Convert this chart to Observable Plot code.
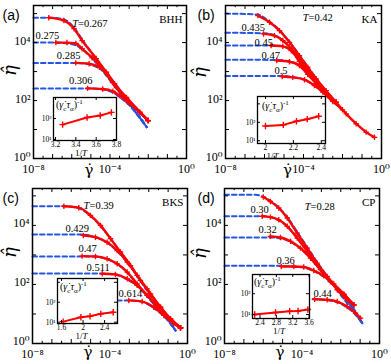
<!DOCTYPE html>
<html><head><meta charset="utf-8">
<script src="https://cdn.jsdelivr.net/npm/d3@7"></script>
<script src="https://cdn.jsdelivr.net/npm/@observablehq/plot@0.6"></script>
<style>
body{margin:0;background:#fff;}
#root{position:relative;width:391px;height:364px;overflow:hidden;background:#fff;}
.rl{position:absolute;font-family:'Liberation Serif','DejaVu Serif',serif;font-size:10px;line-height:1;white-space:nowrap;color:#000;}
.rl sub,.rl sup{font-size:7px;}
</style></head><body><div id="root"></div>
<script>
// ---------- data (log10 values) ----------
// (a) BHH
const A_T = ["0.267","0.275","0.285","0.306"];
const A_redLg = [
 [-7.2,-6.41,-5.88,-5.46,-4.72,-4.19,-3.66,-3.07,-2.44,-2.01],
 [-6.83,-6.25,-5.78,-5.46,-4.93,-4.40,-3.87,-3.13,-2.01],
 [-5.79,-5.09,-4.56,-4.20,-3.76,-3.14,-2.0],
 [-5.17,-4.38,-3.85,-3.50,-3.06,-2.44,-2.0]];
const A_redLe = [
 [4.86,4.76,4.48,4.07,3.45,2.97,2.45,2.0,1.59,1.31],
 [4.0,4.0,3.97,3.79,3.48,3.10,2.62,2.07,1.31],
 [3.30,3.27,3.15,2.98,2.58,2.11,1.31],
 [2.42,2.40,2.32,2.17,1.94,1.60,1.31]];
const A_fitLg = [
 [-8,-7.2,-6.4,-5.8,-5.4,-4.7,-4.2,-3.6,-3.0,-2.5,-2.08],
 [-8,-6.8,-6.2,-5.7,-5.3,-4.9,-4.4,-3.8,-3.1,-2.5,-2.08],
 [-8,-5.8,-5.1,-4.6,-4.2,-3.75,-3.2,-2.6,-2.08],
 [-8,-5.2,-4.4,-3.85,-3.5,-3.05,-2.5,-2.08]];
const A_fitLe = [
 [4.86,4.86,4.80,4.45,4.05,3.42,2.94,2.38,1.86,1.45,1.08],
 [4.0,4.0,3.97,3.88,3.68,3.42,3.04,2.52,1.97,1.45,1.08],
 [3.30,3.30,3.25,3.12,2.94,2.60,2.08,1.55,1.08],
 [2.42,2.42,2.38,2.28,2.12,1.88,1.50,1.08]];
const A_invT = [3.27,3.51,3.64,3.75];
const A_rate = [1.71,2.05,2.14,2.29];
const A_ticks = [3.2,3.4,3.6,3.8];

// (b) KA
const B_T = ["0.42","0.435","0.45","0.47","0.5"];
const B_redLg = [
 [-6.34,-5.74,-5.23,-4.72,-4.21,-3.78,-3.35,-2.84,-2.33,-1.81,-1.30,-0.79,-0.36],
 [-6.05,-5.49,-5.06,-4.63,-4.21,-3.69,-3.18,-2.67,-2.33],
 [-5.66,-5.06,-4.63,-4.21,-3.78,-3.27,-2.75,-2.33],
 [-5.37,-4.72,-4.21,-3.78,-3.35,-2.84,-2.33],
 [-5.09,-4.55,-3.95,-3.44,-3.01,-2.50,-2.0]];
const B_redLe = [
 [4.93,4.70,4.41,4.01,3.55,3.15,2.75,2.34,1.94,1.54,1.20,0.91,0.73],
 [4.30,4.24,4.07,3.78,3.44,2.98,2.52,2.15,1.94],
 [3.90,3.87,3.72,3.35,2.98,2.55,2.17,1.94],
 [3.38,3.34,3.21,2.90,2.58,2.22,1.94],
 [2.83,2.80,2.72,2.52,2.29,1.97,1.68]];
const B_fitLg = [
 [-8,-6.4,-5.74,-5.23,-4.72,-4.21,-3.78,-3.35,-2.84,-2.45],
 [-8,-6.05,-5.49,-5.06,-4.63,-4.21,-3.69,-3.18,-2.67,-2.45],
 [-8,-5.66,-5.06,-4.63,-4.21,-3.78,-3.27,-2.75,-2.45],
 [-8,-5.37,-4.72,-4.21,-3.78,-3.35,-2.84,-2.45],
 [-8,-5.09,-4.55,-3.95,-3.44,-3.01,-2.50]];
const B_fitLe = [
 [5.0,4.97,4.72,4.43,4.03,3.57,3.17,2.77,2.33,2.0],
 [4.34,4.32,4.26,4.08,3.79,3.45,2.99,2.53,2.12,1.98],
 [3.9,3.9,3.87,3.72,3.36,2.99,2.56,2.15,1.97],
 [3.41,3.40,3.35,3.21,2.91,2.59,2.21,1.96],
 [2.85,2.85,2.81,2.72,2.52,2.29,1.95]];
const B_invT = [2.0,2.128,2.222,2.299,2.381];
const B_rate = [1.8,1.86,2.06,2.17,2.33];
const B_ticks = [2,2.2,2.4];

// (c) BKS
const C_T = ["0.39","0.429","0.47","0.511","0.614"];
const C_redLg = [
 [-6.38,-5.61,-5.01,-4.49,-3.97,-3.46,-2.94,-2.43,-1.91,-1.39,-0.88,-0.36],
 [-5.38,-4.75,-4.15,-3.63,-3.11,-2.60,-2.08,-1.39,-0.88,-0.36],
 [-5.44,-4.75,-4.15,-3.63,-3.11,-2.60,-2.08,-1.39,-0.88,-0.36],
 [-4.40,-3.72,-3.11,-2.60,-2.08,-1.57,-0.88,-0.36],
 [-3.03,-2.34,-1.74,-1.22,-0.71,-0.36]];
const C_redLe = [
 [4.65,4.60,4.34,4.0,3.55,3.10,2.64,2.14,1.68,1.23,0.84,0.53],
 [3.66,3.60,3.43,3.15,2.76,2.31,1.85,1.23,0.84,0.53],
 [2.96,2.95,2.87,2.70,2.42,2.02,1.63,1.18,0.82,0.53],
 [2.36,2.34,2.19,1.97,1.63,1.25,0.80,0.53],
 [1.46,1.42,1.23,0.95,0.67,0.53]];
const C_fitLg = [
 [-8,-6.38,-5.61,-5.01,-4.49,-3.97,-3.46,-2.94,-2.43,-1.91,-1.39,-0.9,-0.62],
 [-8,-5.38,-4.75,-4.15,-3.63,-3.11,-2.60,-2.08,-1.5,-1.0,-0.62],
 [-8,-5.44,-4.75,-4.15,-3.63,-3.11,-2.60,-2.08,-1.5,-1.0,-0.62],
 [-8,-4.40,-3.72,-3.11,-2.60,-2.08,-1.57,-1.0,-0.62],
 [-3.63,-3.03,-2.34,-1.74,-1.22,-0.9,-0.62]];
const C_fitLe = [
 [4.65,4.65,4.58,4.32,3.98,3.55,3.10,2.64,2.12,1.64,1.15,0.74,0.44],
 [3.69,3.69,3.59,3.42,3.13,2.74,2.29,1.80,1.27,0.80,0.44],
 [2.95,2.95,2.94,2.86,2.69,2.40,2.0,1.6,1.15,0.78,0.44],
 [2.37,2.37,2.33,2.17,1.95,1.6,1.2,0.78,0.44],
 [1.46,1.46,1.41,1.2,0.92,0.70,0.44]];
const C_invT = [1.63,1.96,2.13,2.33,2.56];
const C_rate = [1.03,1.25,1.30,1.42,1.50];
const C_ticks = [1.6,2,2.4];

// (d) CP
const D_T = ["0.28","0.30","0.32","0.36","0.44"];
const D_redLg = [
 [-6.00,-5.63,-5.20,-4.76,-4.25,-3.73,-3.22,-2.70,-2.18,-1.67,-1.33],
 [-6.05,-5.63,-5.20,-4.76,-4.25,-3.73,-3.22,-2.53,-1.84,-1.33],
 [-5.63,-5.11,-4.59,-4.08,-3.56,-3.05,-2.53,-1.84,-1.33],
 [-5.07,-4.42,-3.91,-3.39,-2.87,-2.36,-1.84,-1.33],
 [-3.35,-2.70,-2.18,-1.67,-1.24,-0.98]];
const D_redLe = [
 [4.96,4.81,4.59,4.25,3.74,3.23,2.72,2.27,1.82,1.48,1.31],
 [4.31,4.28,4.19,3.97,3.57,3.12,2.67,2.10,1.65,1.31],
 [3.63,3.59,3.46,3.23,2.89,2.50,2.10,1.65,1.31],
 [2.61,2.61,2.59,2.47,2.29,2.02,1.68,1.31],
 [1.50,1.48,1.42,1.25,1.03,0.86]];
const D_fitLg = [
 [-8,-6.4,-6.0,-5.63,-5.2,-4.76,-4.25,-3.73,-3.22,-2.70,-2.18,-1.6,-0.89],
 [-8,-6.05,-5.63,-5.2,-4.76,-4.25,-3.73,-3.22,-2.53,-1.84,-0.89],
 [-8,-5.63,-5.11,-4.59,-4.08,-3.56,-3.05,-2.53,-1.84,-0.89],
 [-8,-5.07,-4.42,-3.91,-3.39,-2.87,-2.36,-1.84,-1.33,-0.89],
 [-3.45,-2.70,-2.18,-1.67,-1.24,-0.89]];
const D_fitLe = [
 [5.04,5.04,4.97,4.83,4.61,4.28,3.78,3.27,2.76,2.28,1.8,1.3,0.69],
 [4.31,4.31,4.28,4.18,3.96,3.58,3.13,2.68,2.1,1.6,0.69],
 [3.59,3.59,3.56,3.44,3.22,2.88,2.49,2.08,1.6,0.69],
 [2.63,2.63,2.60,2.57,2.45,2.26,1.98,1.62,1.18,0.69],
 [1.50,1.47,1.40,1.22,0.98,0.69]];
const D_invT = [2.27,2.78,3.125,3.33,3.57];
const D_rate = [1.0,1.10,1.16,1.17,1.24];
const D_ticks = [2.4,2.8,3.2,3.6];

// ---------- label placement (log10 coordinates) ----------
const A_labLg = [-5.67,-7.89,-6.78,-6.15], A_labLe = [4.66,4.24,3.55,2.69];
const B_labLg = [-3.74,-7.18,-6.51,-6.15,-5.49], B_labLe = [4.86,4.52,4.0,3.55,3.03];
const C_labLg = [-5.06,-6.30,-5.63,-5.21,-3.56], C_labLe = [4.66,3.90,3.22,2.58,1.69];
const D_labLg = [-3.56,-6.66,-6.25,-5.32,-3.41], D_labLe = [4.64,4.54,3.86,2.81,1.69];

// ---------- rendering ----------
const RED = "#ff0000", BLUE = "#2456e6";
const SERIF = "'Liberation Serif','DejaVu Serif',serif";
const SANS = "'Liberation Sans',Arial,sans-serif";
const SUP = {"-":"⁻","0":"⁰","1":"¹","2":"²","3":"³","4":"⁴","5":"⁵","6":"⁶","7":"⁷","8":"⁸","9":"⁹"};
const pow10 = d => "10" + String(Math.round(Math.log10(d))).split("").map(c => SUP[c]).join("");
const root = document.getElementById("root");

function build(T, lgs, les) {
  return T.flatMap((t, i) => lgs[i].map((lg, j) => ({T: t, g: 10 ** lg, e: 10 ** les[i][j]})));
}

function mainPanel(o) {
  const iw = o.W - o.ml - o.mr, ih = o.H - o.mt - o.mb;
  const red = build(o.T, o.redLg, o.redLe);
  const fit = build(o.T, o.fitLg, o.fitLe);
  const labs = o.T.map((t, i) => ({s: i === 0 ? "=" + t : t, g: 10 ** o.labLg[i], e: 10 ** o.labLe[i]}));
  const decX = d3.range(-8, 1).map(k => 10 ** k);
  const halfX = d3.range(-8, 0).map(k => 10 ** (k + 0.5));
  const decY = d3.range(0, 6).map(k => 10 ** k).filter(v => v <= o.ytop);
  const tl = 4, tm = 2.2;
  const svg = Plot.plot({
    width: o.W, height: o.H, marginLeft: o.ml, marginRight: o.mr, marginTop: o.mt, marginBottom: o.mb,
    x: {type: "log", domain: [1e-8, 1]},
    y: {type: "log", domain: [1, o.ytop]},
    style: {fontFamily: SERIF, background: "transparent", overflow: "visible"},
    marks: [
      Plot.line(fit, {x: "g", y: "e", z: "T", stroke: BLUE, strokeWidth: 2, strokeDasharray: "4.5,3", curve: "monotone-x"}),
      Plot.line(red, {x: "g", y: "e", z: "T", stroke: RED, strokeWidth: 2.4, curve: "monotone-x"}),
      Plot.dot(red, {x: "g", y: "e", symbol: "plus", r: 1.9, stroke: RED, strokeWidth: 1.3}),
      Plot.tickX(decX, {x: d => d, insetTop: ih - tl, stroke: "black"}),
      Plot.tickX(decX, {x: d => d, insetBottom: ih - tl, stroke: "black"}),
      Plot.tickX(halfX, {x: d => d, insetTop: ih - tm, stroke: "black"}),
      Plot.tickX(halfX, {x: d => d, insetBottom: ih - tm, stroke: "black"}),
      Plot.tickY(decY, {y: d => d, insetRight: iw - tl, stroke: "black"}),
      Plot.tickY(decY, {y: d => d, insetLeft: iw - tl, stroke: "black"}),
      Plot.axisX({ticks: [1e-8, 1e-4, 1], tickSize: 0, tickPadding: o.xpad, tickFormat: pow10, label: null, fontSize: 12}),
      Plot.axisY({ticks: [1, 100, 1e4], tickSize: 0, tickPadding: 3, tickFormat: pow10, label: null, fontSize: 12, dy: o.ylabDy}),
      Plot.frame({stroke: "black", strokeWidth: 1.5}),
      Plot.text(labs, {x: "g", y: "e", text: "s", textAnchor: "start", fontSize: 10.5}),
      Plot.text([o.T[0]], {x: () => 10 ** o.labLg[0], y: () => 10 ** o.labLe[0], text: () => "T", textAnchor: "end", fontStyle: "italic", fontSize: 10.5}),
      Plot.text([o.tag], {frameAnchor: "top-right", text: d => d, textAnchor: "end", dx: -4, dy: 10, fontSize: 11}),
      Plot.text([o.letter], {frameAnchor: "top-left", text: d => d, textAnchor: "start", dx: -o.ml + 2, dy: 5, fontSize: 14, fontFamily: SANS}),
      Plot.text(["η̂"], {frameAnchor: "left", text: d => d, dx: o.ydx, dy: o.ydy, rotate: -90, fontSize: 18, fontStyle: "italic", fontFamily: "'DejaVu Serif',serif"}),
      Plot.text(["γ̇"], {frameAnchor: "bottom", text: d => d, dx: o.gdx, dy: o.gdy, fontSize: 15, fontFamily: "'DejaVu Serif',serif"})
    ]
  });
  svg.style.position = "absolute";
  svg.style.left = o.left + "px";
  svg.style.top = o.top + "px";
  root.appendChild(svg);
}

function inset(o) {
  const ml = 16, mr = 6, mt = 2, mb = 22;
  const bw = o.bx1 - o.bx0, bh = o.by1 - o.by0;
  const rows = o.invT.map((t, i) => ({t, v: 10 ** o.rate[i]}));
  const decY = [10, 100, 1000].filter(v => v >= o.ydom[0] && v <= o.ydom[1]);
  const svg = Plot.plot({
    width: bw + ml + mr, height: bh + mt + mb, marginLeft: ml, marginRight: mr, marginTop: mt, marginBottom: mb,
    x: {domain: o.xdom},
    y: {type: "log", domain: o.ydom},
    style: {fontFamily: SERIF, background: "transparent", overflow: "visible"},
    marks: [
      Plot.frame({fill: "white", stroke: "none"}),
      Plot.line(rows, {x: "t", y: "v", stroke: RED, strokeWidth: 2}),
      Plot.dot(rows, {x: "t", y: "v", symbol: "plus", r: 2.2, stroke: RED, strokeWidth: 1.4}),
      Plot.tickX(o.ticks, {x: d => d, insetTop: bh - 3, stroke: "black"}),
      Plot.tickX(o.ticks, {x: d => d, insetBottom: bh - 3, stroke: "black"}),
      Plot.tickY(decY, {y: d => d, insetRight: bw - 3, stroke: "black"}),
      Plot.tickY(decY, {y: d => d, insetLeft: bw - 3, stroke: "black"}),
      Plot.axisX({ticks: o.ticks, tickSize: 0, tickPadding: 1, tickFormat: d => String(d), label: null, fontSize: 7.5}),
      Plot.axisY({ticks: [10, 100], tickSize: 0, tickPadding: 2, tickFormat: pow10, label: null, fontSize: 7.5}),
      Plot.frame({stroke: "black", strokeWidth: 1.3}),
      Plot.text(["1/"], {frameAnchor: "bottom", text: d => d, textAnchor: "end", dx: o.tdx, dy: 15, fontSize: 9}),
      Plot.text(["T"], {frameAnchor: "bottom", text: d => d, textAnchor: "start", dx: o.tdx, dy: 15, fontSize: 9, fontStyle: "italic"})
    ]
  });
  svg.style.position = "absolute";
  svg.style.left = (o.bx0 - ml) + "px";
  svg.style.top = (o.by0 - mt) + "px";
  root.appendChild(svg);
  const lab = document.createElement("div");
  lab.className = "rl";
  lab.innerHTML = "(<i>γ̇</i><sub>c</sub><i>τ</i><sub>α</sub>)<sup>-1</sup>";
  lab.style.left = o.lx + "px";
  lab.style.top = o.ly + "px";
  root.appendChild(lab);
}

mainPanel({left: 0, top: 0, W: 195, H: 182, ml: 33, mr: 9, mt: 5, mb: 24, ytop: 10 ** 5.28, xpad: 6, ylabDy: -1,
  T: A_T, redLg: A_redLg, redLe: A_redLe, fitLg: A_fitLg, fitLe: A_fitLe, labLg: A_labLg, labLe: A_labLe,
  tag: "BHH", letter: "(a)", ydx: -23, ydy: -6, gdx: -21, gdy: 16});
mainPanel({left: 195, top: 0, W: 196, H: 182, ml: 30, mr: 10, mt: 5, mb: 24, ytop: 10 ** 5.28, xpad: 6, ylabDy: -1,
  T: B_T, redLg: B_redLg, redLe: B_redLe, fitLg: B_fitLg, fitLe: B_fitLe, labLg: B_labLg, labLe: B_labLe,
  tag: "KA", letter: "(b)", ydx: -25, ydy: -4, gdx: -16, gdy: 16});
mainPanel({left: 0, top: 182, W: 195, H: 182, ml: 32, mr: 8, mt: 6, mb: 21, ytop: 10 ** 5.25, xpad: 6, ylabDy: -2.5,
  T: C_T, redLg: C_redLg, redLe: C_redLe, fitLg: C_fitLg, fitLe: C_fitLe, labLg: C_labLg, labLe: C_labLe,
  tag: "BKS", letter: "(c)", ydx: -22, ydy: -8, gdx: -22, gdy: 13});
mainPanel({left: 195, top: 182, W: 196, H: 182, ml: 29, mr: 12, mt: 6, mb: 21, ytop: 10 ** 5.25, xpad: 6, ylabDy: -2.5,
  T: D_T, redLg: D_redLg, redLe: D_redLe, fitLg: D_fitLg, fitLe: D_fitLe, labLg: D_labLg, labLe: D_labLe,
  tag: "CP", letter: "(d)", ydx: -24, ydy: -7, gdx: -22, gdy: 13});

inset({bx0: 53, bx1: 116, by0: 97, by1: 140, xdom: [3.18, 3.8], ydom: [10 ** 0.952, 1000], ticks: A_ticks,
  invT: A_invT, rate: A_rate, tdx: -3, lx: 56, ly: 99});
inset({bx0: 257, bx1: 325, by0: 96, by1: 143, xdom: [1.943, 2.43], ydom: [10 ** 0.85, 10 ** 3.4], ticks: B_ticks,
  invT: B_invT, rate: B_rate, tdx: -18, lx: 262, ly: 100});
inset({bx0: 57, bx1: 117, by0: 278, by1: 323, xdom: [1.525, 2.64], ydom: [10 ** 0.935, 10 ** 3.19], ticks: C_ticks,
  invT: C_invT, rate: C_rate, tdx: -5, lx: 60, ly: 281});
inset({bx0: 252, bx1: 309, by0: 274, by1: 318, xdom: [2.216, 3.61], ydom: [10 ** 0.81, 10 ** 2.92], ticks: D_ticks,
  invT: D_invT, rate: D_rate, tdx: -1, lx: 254, ly: 276});
</script></body></html>
